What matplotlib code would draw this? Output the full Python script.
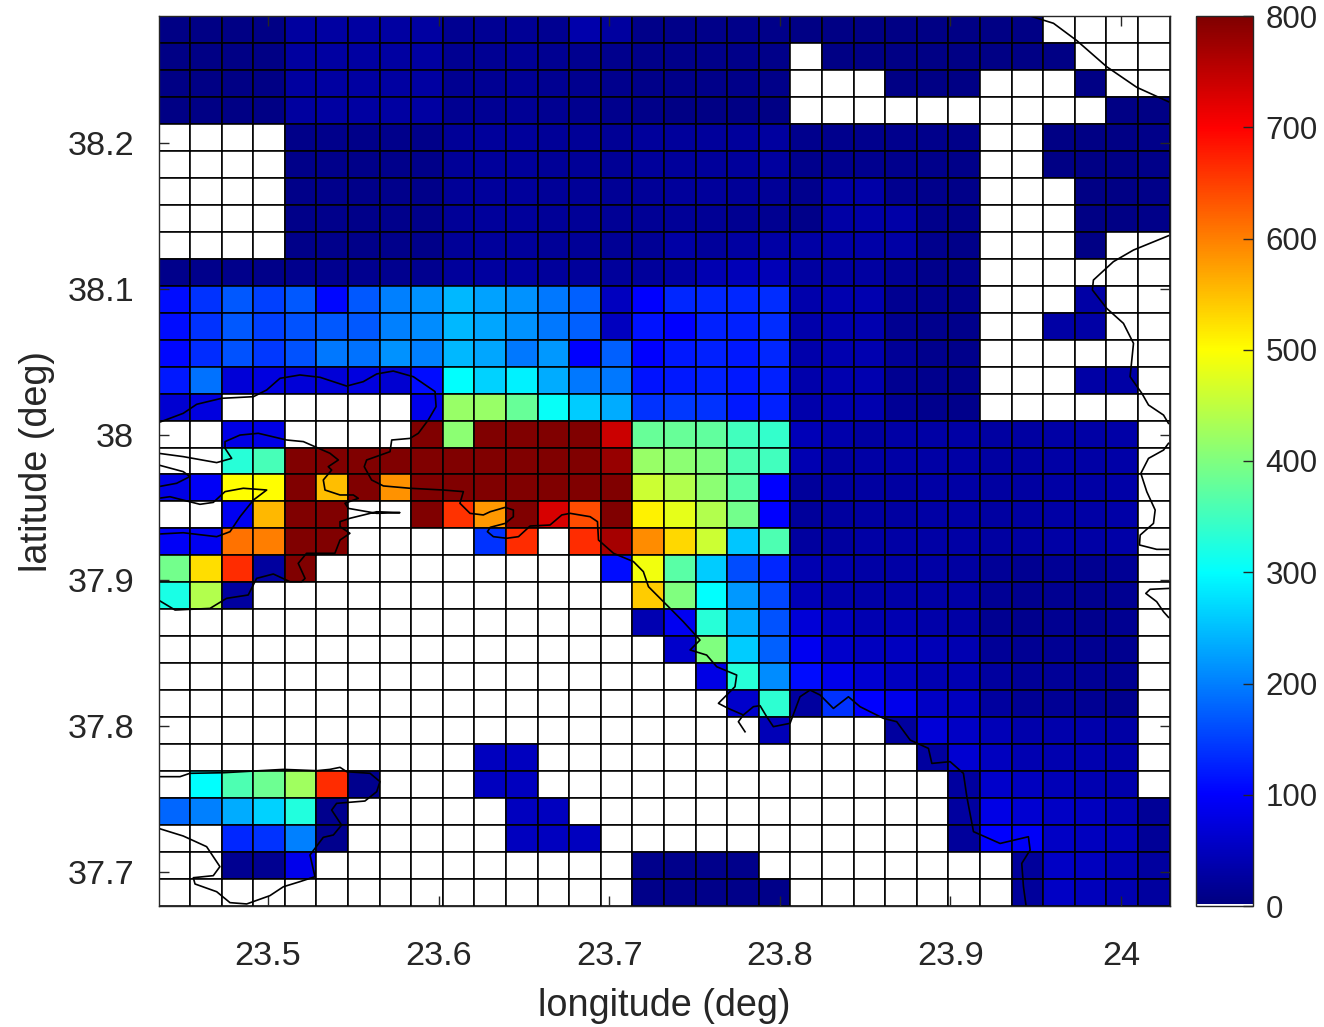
import numpy as np
import matplotlib
matplotlib.use("Agg")
import matplotlib.pyplot as plt
from matplotlib.colors import LinearSegmentedColormap

plt.rcParams["font.family"] = ["Liberation Sans", "DejaVu Sans"]

# grid cells, top row first (0 = no data, drawn white)
conc = [
    [5,5,5,5,25,27,28,27,27,15,17,18,15,35,25,8,8,8,8,8,5,6,6,6,6,6,6,6,0,0,0,0],
    [5,5,5,5,25,27,28,27,27,15,17,18,15,13,12,8,8,8,8,8,0,6,6,6,6,6,6,6,6,0,0,0],
    [5,5,5,5,25,27,28,27,27,15,17,18,15,13,12,8,8,8,8,8,0,0,0,6,6,6,0,0,0,6,0,0],
    [5,5,5,5,25,27,28,27,27,15,17,18,15,13,12,8,6,6,6,5,0,0,0,0,0,0,0,0,0,0,5,5],
    [0,0,0,0,8,10,8,10,8,20,22,22,20,20,18,22,22,22,22,25,12,12,12,12,10,8,0,0,5,5,5,8],
    [0,0,0,0,8,10,8,10,8,20,22,22,20,20,18,22,22,22,22,25,12,14,14,12,10,8,0,0,5,5,5,8],
    [0,0,0,0,8,10,8,10,8,20,22,22,20,20,18,20,22,22,20,20,12,30,32,14,10,8,0,0,0,5,5,8],
    [0,0,0,0,8,10,8,10,8,20,22,22,20,20,18,18,20,18,15,15,8,30,32,32,10,8,0,0,0,5,5,8],
    [0,0,0,0,8,10,8,10,8,20,22,22,20,20,18,18,30,22,28,30,30,32,32,30,12,8,0,0,0,5,0,0],
    [10,10,10,8,12,14,14,14,13,22,25,25,22,22,22,22,28,40,45,45,28,28,28,18,10,10,0,0,0,0,0,0],
    [110,140,170,150,170,105,170,200,215,245,228,215,195,175,50,100,130,130,130,135,35,38,38,15,12,10,0,0,0,30,0,0],
    [110,140,170,150,165,170,170,200,210,245,230,215,195,175,50,115,100,125,125,135,35,38,38,15,12,10,0,0,30,30,0,0],
    [105,135,165,145,165,195,190,215,200,245,230,195,220,100,175,100,120,125,120,130,35,38,38,20,12,10,0,0,0,0,0,0],
    [120,190,70,75,70,70,75,65,110,300,265,290,235,195,195,115,120,125,120,125,35,38,38,15,12,10,0,0,0,30,30,0],
    [65,75,0,0,0,0,0,0,85,420,420,380,305,260,235,140,145,140,120,125,35,38,38,18,12,10,0,0,0,0,0,0],
    [0,0,80,80,0,0,0,0,800,410,800,800,800,800,740,380,380,375,350,340,45,35,28,30,30,30,28,28,30,30,32,0],
    [0,0,330,355,800,800,800,800,800,800,800,800,800,800,780,420,410,400,360,350,40,28,30,30,30,30,28,28,30,30,32,0],
    [80,95,500,500,800,550,800,585,800,800,800,800,800,800,800,460,440,410,370,100,22,25,28,28,30,30,28,28,30,30,32,0],
    [0,0,90,555,800,800,0,0,800,660,580,800,730,640,800,510,480,440,390,100,22,25,28,28,30,30,28,28,30,30,32,0],
    [95,90,610,600,800,800,0,0,0,0,140,665,0,665,770,590,530,460,255,360,25,25,30,30,30,30,28,28,30,30,32,0],
    [390,525,665,25,800,0,0,0,0,0,0,0,0,0,110,490,370,260,160,130,40,35,30,30,30,28,20,15,18,15,18,0],
    [320,440,25,0,0,0,0,0,0,0,0,0,0,0,0,540,400,300,220,155,45,35,32,32,30,30,18,13,15,13,15,0],
    [0,0,0,0,0,0,0,0,0,0,0,0,0,0,0,40,90,330,235,165,70,50,40,40,33,30,15,12,15,12,15,0],
    [0,0,0,0,0,0,0,0,0,0,0,0,0,0,0,0,60,400,260,175,90,60,50,50,45,40,20,17,17,15,13,0],
    [0,0,0,0,0,0,0,0,0,0,0,0,0,0,0,0,0,80,330,210,110,85,65,50,40,40,25,20,20,18,15,0],
    [0,0,0,0,0,0,0,0,0,0,0,0,0,0,0,0,0,0,60,335,25,140,100,85,55,50,25,18,18,17,12,0],
    [0,0,0,0,0,0,0,0,0,0,0,0,0,0,0,0,0,0,0,45,0,0,0,25,70,55,45,35,35,35,30,0],
    [0,0,0,0,0,0,0,0,0,0,50,50,0,0,0,0,0,0,0,0,0,0,0,0,25,65,50,40,38,38,33,0],
    [0,300,360,385,425,665,12,0,0,0,50,50,0,0,0,0,0,0,0,0,0,0,0,0,0,25,60,50,45,40,35,0],
    [180,200,235,265,325,12,0,0,0,0,0,50,50,0,0,0,0,0,0,0,0,0,0,0,0,25,80,65,55,50,40,20],
    [0,0,130,140,200,12,0,0,0,0,0,50,50,50,0,0,0,0,0,0,0,0,0,0,0,22,100,95,55,50,45,20],
    [0,0,15,15,85,0,0,0,0,0,0,0,0,0,0,10,10,10,10,0,0,0,0,0,0,0,0,22,55,50,40,25],
    [0,0,0,0,0,0,0,0,0,0,0,0,0,0,0,8,8,8,8,8,0,0,0,0,0,0,0,22,55,48,40,25],
]

# coastline pieces, lon and lat
coast_main_lon = [23.4357,23.4503,23.4582,23.4728,23.4914,23.4992,23.5070,23.5187,23.5305,23.5461,23.5558,23.5637,23.5734,23.5852,23.5979,23.5985,23.5939,23.5881,23.5832,23.5725,23.5715,23.5578,23.5564,23.5607,23.5676,23.5832,23.6027,23.6145,23.6125,23.6184,23.6262,23.6302,23.6390,23.6438,23.6438,23.6390,23.6302,23.6286,23.6321,23.6399,23.6468,23.6536,23.6653,23.6722,23.6771,23.6888,23.6931,23.6937,23.7025,23.7142,23.7200,23.7230,23.7357,23.7434,23.7532,23.7474,23.7571,23.7630,23.7747,23.7737,23.7640,23.7698,23.7786,23.7845,23.7884,23.7923,23.7962,23.8060,23.8118,23.8177,23.8236,23.8314,23.8402,23.8470,23.8607,23.8685,23.8764,23.8871,23.8891,23.8998,23.9076,23.9096,23.9135,23.9291,23.9457,23.9467,23.9418,23.9428,23.9444]
coast_main_lat = [38.0082,38.0146,38.0208,38.0249,38.0260,38.0306,38.0386,38.0409,38.0393,38.0333,38.0363,38.0416,38.0436,38.0397,38.0295,38.0192,38.0100,38.0009,37.9974,37.9963,37.9883,37.9826,37.9780,37.9689,37.9648,37.9632,37.9620,37.9609,37.9529,37.9460,37.9449,37.9471,37.9501,37.9483,37.9437,37.9391,37.9364,37.9334,37.9300,37.9289,37.9300,37.9373,37.9380,37.9449,37.9460,37.9437,37.9403,37.9277,37.9186,37.9129,37.9060,37.8957,37.8808,37.8717,37.8591,37.8523,37.8488,37.8408,37.8351,37.8271,37.8157,37.8122,37.8077,37.8134,37.8141,37.8065,37.7997,37.8020,37.8202,37.8248,37.8214,37.8122,37.8202,37.8134,37.8054,37.8031,37.7905,37.7848,37.7745,37.7757,37.7677,37.7517,37.7277,37.7196,37.7242,37.7151,37.7059,37.6899,37.6762]
coast_spur_lon = [23.7786,23.7757,23.7796]
coast_spur_lat = [37.8077,37.8031,37.7962]
coast_gulf_lon = [23.4357,23.4503,23.4699,23.4787,23.4748,23.4748,23.4836,23.4943,23.5109,23.5207,23.5363,23.5412,23.5353,23.5373,23.5324,23.5334,23.5422,23.5500,23.5529,23.5451,23.5471,23.5637,23.5773,23.5637,23.5480,23.5422,23.5422,23.5480,23.5422,23.5392,23.5226,23.5177,23.5217,23.5197,23.5129,23.5031,23.4933,23.4884,23.4757,23.4660,23.4455,23.4357]
coast_gulf_lat = [37.9872,37.9849,37.9808,37.9837,37.9906,37.9952,37.9997,38.0009,37.9963,37.9952,37.9872,37.9826,37.9780,37.9757,37.9689,37.9620,37.9586,37.9586,37.9563,37.9529,37.9494,37.9460,37.9465,37.9471,37.9426,37.9403,37.9369,37.9323,37.9277,37.9186,37.9186,37.9117,37.9014,37.8991,37.8991,37.9044,37.9014,37.8900,37.8877,37.8808,37.8797,37.8866]
coast_tip_lon = [23.4357,23.4503,23.4542,23.4464,23.4357]
coast_tip_lat = [37.9792,37.9746,37.9712,37.9666,37.9643]
coast_bay_lon = [23.4357,23.4425,23.4601,23.4679,23.4748,23.4855,23.4992,23.4914,23.4836,23.4777,23.4699,23.4503,23.4357]
coast_bay_lat = [37.9563,37.9574,37.9522,37.9535,37.9609,37.9632,37.9620,37.9551,37.9437,37.9334,37.9300,37.9327,37.9318]
coast_south_lon = [23.4357,23.4484,23.4542,23.4738,23.5090,23.5285,23.5363,23.5422,23.5461,23.5598,23.5656,23.5637,23.5568,23.5402,23.5373,23.5431,23.5383,23.5324,23.5246,23.5275,23.5187,23.5090,23.5011,23.4875,23.4777,23.4699,23.4572,23.4562,23.4679,23.4718,23.4640,23.4503,23.4357]
coast_south_lat = [37.7654,37.7654,37.7677,37.7681,37.7704,37.7695,37.7704,37.7718,37.7688,37.7677,37.7620,37.7551,37.7487,37.7471,37.7425,37.7322,37.7254,37.7238,37.7117,37.6968,37.6934,37.6899,37.6838,37.6781,37.6790,37.6865,37.6918,37.6961,37.6975,37.7037,37.7174,37.7247,37.7300]
coast_ne_lon = [23.9467,23.9604,23.9741,23.9916,24.0092,24.0278]
coast_ne_lat = [38.2871,38.2821,38.2702,38.2523,38.2382,38.2283]
coast_east_lon = [24.0278,24.0073,23.9955,23.9838,23.9832,23.9916,24.0014,24.0073,24.0053,24.0122,24.0161,24.0249,24.0278]
coast_east_lat = [38.1364,38.1266,38.1186,38.1060,38.0992,38.0866,38.0763,38.0626,38.0397,38.0283,38.0203,38.0134,38.0077]
coast_east2_lon = [24.0278,24.0249,24.0161,24.0116,24.0151,24.0200,24.0190,24.0112,24.0108,24.0209,24.0278]
coast_east2_lat = [37.9940,37.9894,37.9837,37.9734,37.9608,37.9483,37.9391,37.9311,37.9243,37.9213,37.9213]
coast_east3_lon = [24.0278,24.0170,24.0145,24.0209,24.0249,24.0278]
coast_east3_lat = [37.8945,37.8939,37.8911,37.8854,37.8785,37.8747]

x_ticks = [23.5, 23.6, 23.7, 23.8, 23.9, 24.0]
x_labels = ["23.5", "23.6", "23.7", "23.8", "23.9", "24"]
y_ticks = [37.7, 37.8, 37.9, 38.0, 38.1, 38.2]
y_labels = ["37.7", "37.8", "37.9", "38", "38.1", "38.2"]
cbar_ticks = [0, 100, 200, 300, 400, 500, 600, 700, 800]

lon_min, lon_max = 23.4358, 24.0284
lat_min, lat_max = 37.6767, 38.2871
W, H = 1324, 1027
dark = "#262626"


def matlab_jet(n=512):
    anchors = [(0, (0, 0, .5)), (1/8, (0, 0, 1)), (3/8, (0, 1, 1)), (5/8, (1, 1, 0)),
               (7/8, (1, 0, 0)), (1, (.5, 0, 0))]
    cmap = LinearSegmentedColormap.from_list("mjet", anchors, N=n)
    colors = cmap(np.linspace(0, 1, n))
    colors[0] = (1, 1, 1, 1)
    return LinearSegmentedColormap.from_list("mjet_white", colors, N=n)


def main():
    fig = plt.figure(figsize=(W / 100, H / 100), dpi=100)
    ax = fig.add_axes([158.5 / W, 1 - 906 / H, 1011 / W, 890 / H])
    cax = fig.add_axes([1196 / W, 1 - 906 / H, 57 / W, 890 / H])

    values = np.array(conc, dtype=float)
    x_edges = np.linspace(lon_min, lon_max, values.shape[1] + 1)
    y_edges = np.linspace(lat_max, lat_min, values.shape[0] + 1)
    mesh = ax.pcolormesh(x_edges, y_edges, values, cmap=matlab_jet(), vmin=0, vmax=800,
                         edgecolors="black", linewidth=1.15, antialiased=True)

    coast = [(coast_main_lon, coast_main_lat), (coast_spur_lon, coast_spur_lat),
             (coast_gulf_lon, coast_gulf_lat), (coast_tip_lon, coast_tip_lat),
             (coast_bay_lon, coast_bay_lat), (coast_south_lon, coast_south_lat),
             (coast_ne_lon, coast_ne_lat), (coast_east_lon, coast_east_lat),
             (coast_east2_lon, coast_east2_lat), (coast_east3_lon, coast_east3_lat)]
    for lon, lat in coast:
        ax.plot(lon, lat, color="black", linewidth=1.2, solid_joinstyle="round")

    ax.set_xlim(lon_min, lon_max)
    ax.set_ylim(lat_min, lat_max)
    ax.set_xticks(x_ticks, x_labels)
    ax.set_yticks(y_ticks, y_labels)
    ax.tick_params(axis="x", direction="in", top=True, length=7, width=1, labelsize=24.7,
                   colors=dark, pad=25)
    ax.tick_params(axis="y", direction="in", right=True, length=7, width=1, labelsize=24.7,
                   colors=dark, pad=17.5)
    ax.set_xlabel("longitude (deg)", fontsize=27.3, color=dark, labelpad=12)
    ax.set_ylabel("latitude (deg)", fontsize=27.3, color=dark, labelpad=9)
    for spine in ax.spines.values():
        spine.set_color(dark)
        spine.set_linewidth(1.0)

    cbar = fig.colorbar(mesh, cax=cax)
    cbar.set_ticks(cbar_ticks)
    cbar.ax.tick_params(direction="in", length=7, width=1, labelsize=22.5, colors=dark, pad=9)
    cbar.outline.set_edgecolor(dark)
    cbar.outline.set_linewidth(1.0)

    fig.savefig("out.png", dpi=100)


if __name__ == "__main__":
    main()
